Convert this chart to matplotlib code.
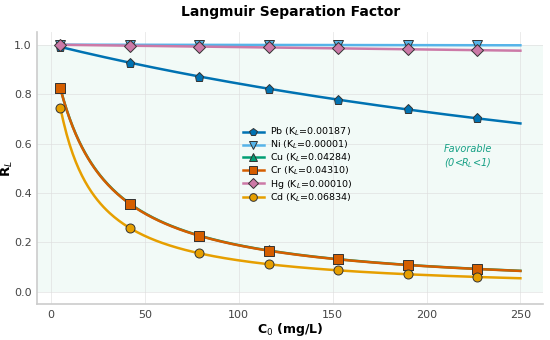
import numpy as np
import matplotlib
matplotlib.use("Agg")
import matplotlib.pyplot as plt
from matplotlib.lines import Line2D

metals = ["Pb", "Ni", "Cu", "Cr", "Hg", "Cd"]
kl_values = [0.00187, 0.00001, 0.04284, 0.04310, 0.00010, 0.06834]
kl_labels = ["0.00187", "0.00001", "0.04284", "0.04310", "0.00010", "0.06834"]
c0_points = [5, 42, 79, 116, 153, 190, 227]
rl_pb = [0.991, 0.927, 0.871, 0.822, 0.778, 0.738, 0.702]
rl_ni = [1.000, 1.000, 0.999, 0.999, 0.998, 0.998, 0.998]
rl_cu = [0.823, 0.357, 0.228, 0.168, 0.132, 0.109, 0.093]
rl_cr = [0.823, 0.356, 0.227, 0.167, 0.132, 0.109, 0.093]
rl_hg = [1.000, 0.996, 0.992, 0.989, 0.985, 0.981, 0.978]
rl_cd = [0.745, 0.258, 0.156, 0.112, 0.087, 0.072, 0.061]
rl_points = [rl_pb, rl_ni, rl_cu, rl_cr, rl_hg, rl_cd]
c0_range = [5, 250]

colors = ["#0072B2", "#56B4E9", "#009E73", "#D55E00", "#CC79A7", "#E69F00"]
markers = ["p", "v", "^", "s", "D", "o"]

fig, ax = plt.subplots(figsize=(5.5, 3.4), dpi=100)
fig.subplots_adjust(left=0.068, right=0.988, top=0.905, bottom=0.105)

c_line = np.linspace(c0_range[0], c0_range[1], 300)
handles = []
for m, kl, klab, rl, col, mk in zip(metals, kl_values, kl_labels, rl_points, colors, markers):
    ax.plot(c_line, 1.0 / (1.0 + kl * c_line), color=col, lw=1.8, zorder=3)
    ax.plot(c0_points, rl, linestyle="none", marker=mk, markersize=6.5,
            markerfacecolor=col, markeredgecolor="#333333", markeredgewidth=0.7, zorder=4)
    handles.append(Line2D([0], [0], color=col, lw=1.8, marker=mk, markersize=6.5,
                          markerfacecolor=col, markeredgecolor="#333333",
                          markeredgewidth=0.7, label=f"{m} (K$_L$={klab})"))

ax.axhspan(0, 1, color="#009E73", alpha=0.05, lw=0, zorder=0)
ax.text(222, 0.545, "Favorable\n(0<R$_L$<1)", color="#16A085", fontsize=7,
        style="italic", ha="center", va="center")

ax.set_xlim(-7.25, 262.25)
ax.set_ylim(-0.05, 1.05)
ax.set_xticks([0, 50, 100, 150, 200, 250])
ax.set_yticks([0.0, 0.2, 0.4, 0.6, 0.8, 1.0])
ax.grid(True, color="#dddddd", lw=0.6, alpha=0.7)
ax.set_axisbelow(True)
for s in ["top", "right"]:
    ax.spines[s].set_visible(False)
for s in ["left", "bottom"]:
    ax.spines[s].set_color("#cccccc")
    ax.spines[s].set_linewidth(1.2)
ax.tick_params(labelsize=8, colors="#444444", length=0, pad=4)
ax.set_xlabel("C$_0$ (mg/L)", fontsize=9, fontweight="bold", labelpad=1)
ax.set_ylabel("R$_L$", fontsize=9.5, fontweight="bold")
ax.yaxis.set_label_coords(-0.045, 0.5)
ax.set_title("Langmuir Separation Factor", fontsize=10, fontweight="bold", pad=12)

ax.legend(handles=handles, loc="upper left", bbox_to_anchor=(0.398, 0.67),
          frameon=False, fontsize=6.8, handlelength=2.3, labelspacing=0.05,
          handletextpad=0.6, markerscale=0.85, borderaxespad=0)

fig.savefig("out.png", dpi=100)
